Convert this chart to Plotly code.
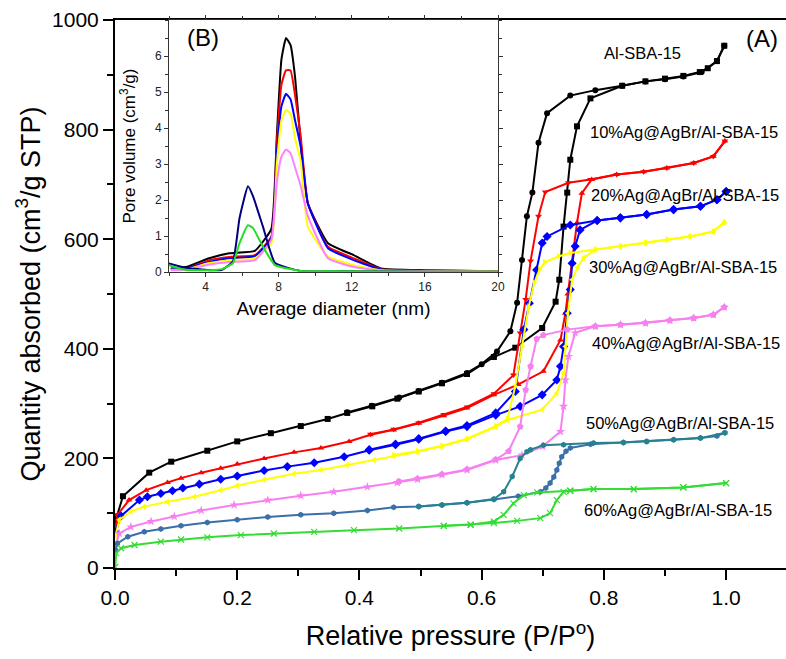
import plotly.graph_objects as go

# ---------------- Main panel (A): N2 isotherms ----------------
# Al-SBA-15
black_ads_p = [0.0005, 0.003, 0.013, 0.056, 0.092, 0.151, 0.2, 0.255, 0.304, 0.348, 0.38, 0.421, 0.462, 0.497, 0.535, 0.576, 0.62, 0.655, 0.699, 0.721, 0.727, 0.734, 0.74, 0.745, 0.756, 0.778, 0.83, 0.868, 0.9, 0.93, 0.957, 0.97, 0.985, 0.997]
black_ads_v = [79, 94, 131, 174, 194, 214, 231, 246, 259, 272, 283, 295, 309, 322, 337, 354, 385, 402, 438, 486, 526, 623, 685, 745, 806, 857, 880, 888, 893, 898, 905, 912, 925, 953]
black_des_p = [0.997, 0.985, 0.96, 0.93, 0.9, 0.868, 0.83, 0.786, 0.745, 0.707, 0.693, 0.683, 0.674, 0.666, 0.658, 0.647, 0.625, 0.6, 0.576, 0.535, 0.497, 0.465, 0.42, 0.38]
black_des_v = [953, 925, 905, 897, 892, 888, 880, 872, 862, 830, 776, 685, 642, 562, 484, 432, 395, 372, 356, 338, 323, 311, 296, 284]

# 10%Ag@AgBr/Al-SBA-15
red_ads_p = [0.0005, 0.004, 0.023, 0.051, 0.086, 0.108, 0.141, 0.173, 0.2, 0.244, 0.293, 0.337, 0.383, 0.418, 0.456, 0.497, 0.538, 0.576, 0.62, 0.66, 0.701, 0.729, 0.737, 0.741, 0.748, 0.756, 0.764, 0.78, 0.821, 0.865, 0.903, 0.947, 0.979, 0.998]
red_ads_v = [69, 97, 124, 142, 156, 164, 174, 182, 190, 200, 211, 219, 231, 243, 252, 264, 278, 292, 316, 335, 359, 416, 465, 500, 556, 630, 684, 709, 718, 723, 730, 739, 751, 779]
red_des_p = [0.998, 0.979, 0.947, 0.903, 0.865, 0.821, 0.778, 0.742, 0.704, 0.693, 0.68, 0.672, 0.663, 0.652, 0.62, 0.576, 0.538, 0.497, 0.456, 0.418]
red_des_v = [779, 751, 739, 730, 723, 718, 709, 703, 686, 642, 560, 490, 429, 352, 318, 294, 280, 265, 253, 244]

# 20%Ag@AgBr/Al-SBA-15
blue_ads_p = [0.0005, 0.01, 0.04, 0.053, 0.075, 0.094, 0.111, 0.138, 0.173, 0.2, 0.244, 0.282, 0.326, 0.375, 0.416, 0.459, 0.497, 0.541, 0.576, 0.623, 0.663, 0.699, 0.723, 0.729, 0.734, 0.74, 0.745, 0.748, 0.753, 0.761, 0.789, 0.827, 0.87, 0.914, 0.958, 0.985, 1.0]
blue_ads_v = [66, 95, 124, 130, 136, 141, 146, 153, 162, 168, 178, 185, 192, 203, 215, 225, 235, 249, 258, 279, 295, 316, 343, 368, 404, 465, 508, 556, 587, 617, 634, 639, 645, 654, 660, 672, 687]
blue_des_p = [1.0, 0.985, 0.958, 0.914, 0.87, 0.827, 0.789, 0.745, 0.707, 0.699, 0.69, 0.678, 0.669, 0.655, 0.623, 0.576, 0.541, 0.497, 0.459, 0.416]
blue_des_v = [687, 672, 660, 654, 645, 639, 634, 626, 605, 593, 544, 483, 435, 322, 283, 260, 250, 236, 226, 216]

# 30%Ag@AgBr/Al-SBA-15
yellow_ads_p = [0.0005, 0.007, 0.026, 0.048, 0.086, 0.13, 0.173, 0.2, 0.244, 0.293, 0.337, 0.38, 0.424, 0.456, 0.495, 0.535, 0.576, 0.623, 0.642, 0.699, 0.723, 0.734, 0.737, 0.741, 0.748, 0.757, 0.767, 0.786, 0.827, 0.868, 0.903, 0.941, 0.979, 0.997]
yellow_ads_v = [57, 88, 103, 112, 121, 130, 142, 150, 161, 172, 179, 188, 197, 205, 212, 222, 235, 258, 270, 289, 319, 356, 404, 465, 526, 549, 566, 581, 587, 593, 599, 605, 614, 631]
yellow_des_p = [0.997, 0.979, 0.941, 0.903, 0.868, 0.827, 0.786, 0.745, 0.726, 0.703, 0.695, 0.686, 0.677, 0.666, 0.655, 0.642, 0.623, 0.576, 0.535, 0.495, 0.456]
yellow_des_v = [631, 614, 605, 599, 593, 587, 581, 575, 569, 558, 545, 520, 477, 404, 331, 272, 259, 236, 223, 213, 206]

# 40%Ag@AgBr/Al-SBA-15
pink_ads_p = [0.0005, 0.007, 0.026, 0.059, 0.097, 0.141, 0.195, 0.25, 0.304, 0.358, 0.413, 0.462, 0.495, 0.535, 0.576, 0.623, 0.666, 0.7, 0.729, 0.734, 0.737, 0.742, 0.753, 0.786, 0.827, 0.868, 0.908, 0.947, 0.979, 0.997]
pink_ads_v = [39, 63, 75, 85, 94, 105, 115, 124, 132, 139, 148, 156, 162, 170, 179, 197, 206, 222, 249, 295, 343, 386, 429, 441, 444, 447, 452, 456, 462, 476]
pink_des_p = [0.997, 0.979, 0.947, 0.908, 0.868, 0.827, 0.786, 0.74, 0.701, 0.69, 0.68, 0.672, 0.663, 0.644, 0.623, 0.576, 0.535, 0.495, 0.465]
pink_des_v = [476, 462, 456, 452, 447, 444, 441, 435, 425, 418, 368, 325, 258, 213, 198, 180, 171, 163, 158]

# 50%Ag@AgBr/Al-SBA-15
teal_ads_p = [0.0005, 0.004, 0.021, 0.048, 0.075, 0.108, 0.151, 0.2, 0.25, 0.304, 0.358, 0.413, 0.456, 0.497, 0.535, 0.576, 0.62, 0.66, 0.696, 0.705, 0.712, 0.718, 0.723, 0.727, 0.731, 0.738, 0.745, 0.778, 0.832, 0.87, 0.914, 0.958, 0.985, 0.998]
teal_ads_v = [33, 45, 57, 66, 71, 77, 83, 88, 93, 97, 100, 105, 111, 112, 115, 119, 125, 131, 139, 146, 155, 166, 179, 191, 203, 213, 219, 226, 229, 231, 234, 237, 241, 247]
teal_des_p = [0.998, 0.958, 0.914, 0.87, 0.832, 0.783, 0.734, 0.701, 0.68, 0.674, 0.663, 0.65, 0.636, 0.62, 0.576, 0.535, 0.497]
teal_des_v = [247, 237, 234, 231, 229, 228, 225, 224, 216, 212, 200, 167, 139, 126, 119, 115, 112]

# 60%Ag@AgBr/Al-SBA-15
green_ads_p = [0.0005, 0.002, 0.01, 0.032, 0.075, 0.108, 0.151, 0.206, 0.26, 0.326, 0.391, 0.465, 0.538, 0.582, 0.62, 0.658, 0.696, 0.712, 0.723, 0.734, 0.745, 0.783, 0.849, 0.93, 1.0]
green_ads_v = [2, 27, 36, 42, 48, 52, 56, 60, 63, 66, 69, 72, 77, 79, 82, 86, 91, 100, 124, 139, 141, 144, 144, 147, 155]
green_des_p = [1.0, 0.93, 0.849, 0.783, 0.745, 0.691, 0.669, 0.652, 0.636, 0.62, 0.582, 0.538]
green_des_v = [155, 147, 144, 144, 141, 138, 133, 118, 97, 85, 79, 77]

sample_labels = ["Al-SBA-15", "10%Ag@AgBr/Al-SBA-15", "20%Ag@AgBr/Al-SBA-15",
                 "30%Ag@AgBr/Al-SBA-15", "40%Ag@AgBr/Al-SBA-15",
                 "50%Ag@AgBr/Al-SBA-15", "60%Ag@AgBr/Al-SBA-15"]

x_ticks_main = [0.0, 0.2, 0.4, 0.6, 0.8, 1.0]
y_ticks_main = [0, 200, 400, 600, 800, 1000]

# ---------------- Inset (B): pore size distribution ----------------
psd_d = [2.1, 3.0, 4.2, 5.3, 6.7, 7.6, 7.9, 8.15, 8.4, 8.65, 8.9, 9.2, 9.6, 10.7, 12.1, 13.6, 16, 20]
psd_black = [0.1, 0.15, 0.38, 0.52, 0.59, 1.2, 3.8, 5.9, 6.5, 6.3, 5.4, 3.6, 1.9, 0.8, 0.47, 0.1, 0.05, 0.02]
psd_red = [0.08, 0.1, 0.33, 0.42, 0.47, 0.98, 3.6, 5.2, 5.6, 5.6, 4.9, 3.8, 1.9, 0.7, 0.38, 0.08, 0.04, 0.02]
psd_blue = [0.08, 0.1, 0.28, 0.38, 0.44, 0.95, 3.3, 4.6, 4.95, 4.8, 4.2, 3.5, 1.9, 0.66, 0.33, 0.07, 0.03, 0.02]
psd_yellow = [0.06, 0.08, 0.25, 0.33, 0.38, 0.8, 3.0, 4.2, 4.5, 4.4, 3.7, 3.1, 1.25, 0.43, 0.19, 0.05, 0.03, 0.02]
psd_pink = [0.05, 0.07, 0.21, 0.28, 0.33, 0.9, 2.5, 3.2, 3.4, 3.3, 2.9, 2.4, 1.55, 0.38, 0.14, 0.04, 0.02, 0.01]
psd_d_small = [2.0, 2.9, 4.2, 4.9, 5.5, 5.86, 6.32, 6.6, 7.14, 7.8, 9.2, 12, 16, 20]
psd_navy = [0.24, 0.12, 0.05, 0.06, 0.3, 1.5, 2.38, 2.1, 1.26, 0.25, 0.03, 0.02, 0.01, 0.01]
psd_green = [0.19, 0.06, 0.05, 0.08, 0.25, 0.8, 1.3, 1.22, 0.7, 0.19, 0.03, 0.02, 0.01, 0.01]

x_ticks_inset = [4, 8, 12, 16, 20]
y_ticks_inset = [0, 1, 2, 3, 4, 5, 6]

# ---------------- Figure ----------------
W, H = 786, 659
ML, MR, MT, MB = 115, 0, 20, 91
FONT = "Liberation Sans, Arial, sans-serif"

def px(xp):
    return (xp - ML) / (W - ML - MR)

def py(yp):
    return (H - MB - yp) / (H - MT - MB)

fig = go.Figure()

series = [
    (black_ads_p, black_ads_v, black_des_p, black_des_v, "#000000", "#000000", "square", "circle", 6),
    (red_ads_p, red_ads_v, red_des_p, red_des_v, "#ff0000", "#ff0000", "triangle-up", "triangle-down", 6),
    (blue_ads_p, blue_ads_v, blue_des_p, blue_des_v, "#0000ff", "#0000ff", "diamond", "diamond", 7),
    (yellow_ads_p, yellow_ads_v, yellow_des_p, yellow_des_v, "#ffff00", "#ffff00", "triangle-left", "triangle-right", 6),
    (pink_ads_p, pink_ads_v, pink_des_p, pink_des_v, "#f780f0", "#f780f0", "star", "pentagon", 7),
    (teal_ads_p, teal_ads_v, teal_des_p, teal_des_v, "#3a6fa8", "#24838f", "hexagon", "hexagon", 6),
    (green_ads_p, green_ads_v, green_des_p, green_des_v, "#33dd33", "#33dd33", "x-thin", "x-thin", 6),
]

for i, (ap, av, dp, dv, acol, dcol, asym, dsym, ms) in enumerate(series):
    for xs, ys, col, sym in ((ap, av, acol, asym), (dp, dv, dcol, dsym)):
        mline = dict(width=1.2, color=col) if sym == "x-thin" else dict(width=0)
        fig.add_trace(go.Scatter(
            x=xs, y=ys, mode="lines+markers", name=sample_labels[i], showlegend=False,
            line=dict(color=col, width=2),
            marker=dict(symbol=sym, size=ms, color=col, line=mline),
            xaxis="x", yaxis="y"))

psd_series = [
    (psd_d, psd_black, "#000000"),
    (psd_d, psd_red, "#ff0000"),
    (psd_d, psd_blue, "#0000ff"),
    (psd_d, psd_yellow, "#ffff00"),
    (psd_d, psd_pink, "#ff80ff"),
    (psd_d_small, psd_navy, "#000080"),
    (psd_d_small, psd_green, "#22dd22"),
]
for d, v, col in psd_series:
    fig.add_trace(go.Scatter(x=d, y=v, mode="lines", line=dict(color=col, width=2, shape="spline", smoothing=0.4),
                             showlegend=False, xaxis="x2", yaxis="y2"))

tickfont_main = dict(family=FONT, size=21, color="black")
fig.update_layout(
    width=W, height=H,
    margin=dict(l=ML, r=MR, t=MT, b=MB, autoexpand=False),
    paper_bgcolor="white", plot_bgcolor="white",
    font=dict(family=FONT, color="black"),
    showlegend=False,
    xaxis=dict(
        domain=[0, 1], range=[0, 1.098], anchor="y", automargin=False,
        tickvals=x_ticks_main, ticktext=[f"{t:.1f}" for t in x_ticks_main],
        ticks="outside", ticklen=10, tickwidth=2, tickcolor="black",
        minor=dict(dtick=0.1, ticks="outside", ticklen=6, tickwidth=2, tickcolor="black"),
        showline=True, linewidth=2, linecolor="black", mirror=True,
        showgrid=False, zeroline=False, tickfont=tickfont_main,
        title=dict(text="Relative pressure (P/P<sup>o</sup>)", font=dict(family=FONT, size=27), standoff=18),
    ),
    yaxis=dict(
        domain=[0, 1], range=[0, 1000], anchor="x", automargin=False,
        tickvals=y_ticks_main,
        ticks="outside", ticklen=10, tickwidth=2, tickcolor="black",
        minor=dict(dtick=100, ticks="outside", ticklen=6, tickwidth=2, tickcolor="black"),
        showline=True, linewidth=2, linecolor="black",
        showgrid=False, zeroline=False, tickfont=tickfont_main,
        title=dict(text="Quantity absorbed (cm<sup>3</sup>/g STP)", font=dict(family=FONT, size=27), standoff=4),
    ),
    xaxis2=dict(
        domain=[px(169), px(498)], range=[2, 20], anchor="y2", automargin=False,
        tickvals=x_ticks_inset,
        ticks="outside", ticklen=4, tickwidth=1, tickcolor="#333",
        minor=dict(dtick=2, ticks="outside", ticklen=3, tickwidth=1, tickcolor="#333"),
        showline=True, linewidth=1, linecolor="#333", mirror="ticks",
        showgrid=False, zeroline=False, tickfont=dict(family=FONT, size=12, color="#222"),
        title=dict(text="Average diameter (nm)", font=dict(family=FONT, size=19), standoff=8),
    ),
    yaxis2=dict(
        domain=[py(272), 1], range=[0, 7], anchor="x2", automargin=False,
        tickvals=y_ticks_inset,
        ticks="outside", ticklen=4, tickwidth=1, tickcolor="#333",
        minor=dict(dtick=0.5, ticks="outside", ticklen=3, tickwidth=1, tickcolor="#333"),
        showline=True, linewidth=1, linecolor="#333", mirror="ticks",
        showgrid=False, zeroline=False, tickfont=dict(family=FONT, size=12, color="#222"),
        title=dict(text="Pore volume (cm<sup>3</sup>/g)", font=dict(family=FONT, size=17), standoff=14),
    ),
)

label_pos = [(642, 53), (684, 132), (685, 195), (683, 267), (686, 343), (680, 423), (678, 510)]
for txt, (xp, yp) in zip(sample_labels, label_pos):
    fig.add_annotation(text=txt, x=px(xp), y=py(yp), xref="paper", yref="paper",
                       showarrow=False, xanchor="center", yanchor="middle",
                       font=dict(family=FONT, size=16.5, color="black"))

fig.add_annotation(text="(A)", x=px(762), y=py(38), xref="paper", yref="paper",
                   showarrow=False, xanchor="center", yanchor="middle",
                   font=dict(family=FONT, size=24, color="black"))
fig.add_annotation(text="(B)", x=px(203), y=py(37), xref="paper", yref="paper",
                   showarrow=False, xanchor="center", yanchor="middle",
                   font=dict(family=FONT, size=24, color="black"))

fig.write_html("out.html", config={"displayModeBar": False},
               post_script="document.body.style.margin='0px';document.body.style.overflow='hidden';")
